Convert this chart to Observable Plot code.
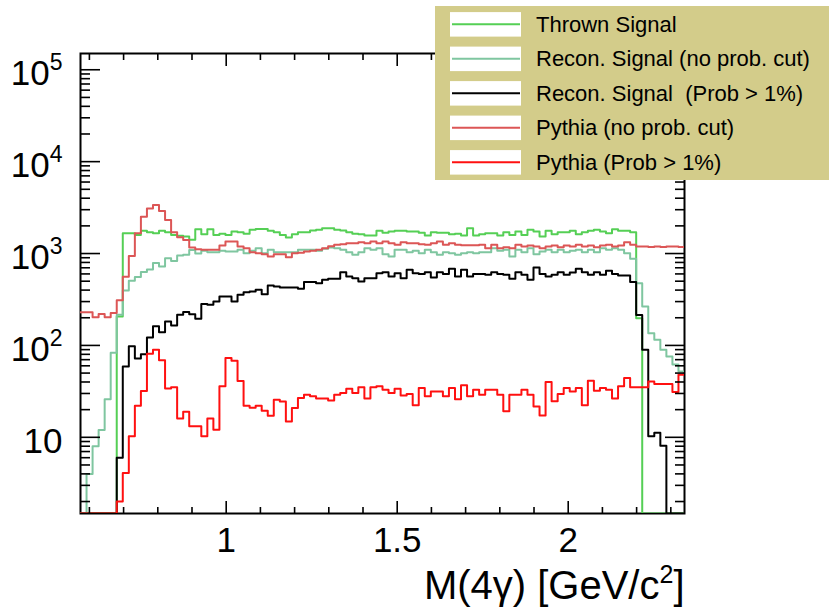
<!DOCTYPE html>
<html>
<head>
<meta charset="utf-8">
<script src="https://cdn.jsdelivr.net/npm/d3@7"></script>
<script src="https://cdn.jsdelivr.net/npm/@observablehq/plot@0.6"></script>
<style>
  html, body { margin: 0; padding: 0; background: #fff; }
  #wrap { position: relative; width: 829px; height: 610px; overflow: hidden; font-family: "Liberation Sans", Arial, Helvetica, sans-serif; }
  #legend { position: absolute; left: 435px; top: 6px; }
</style>
</head>
<body>
<div id="wrap">
  <div id="chart"></div>
  <svg id="legend" width="394" height="174"></svg>
</div>
<script>
// ---- Histogram binning (100 bins over the displayed range) ----
const xMin = 0.574, xMax = 2.340, nBins = 100;
const yLo = 1.482, yHi = 150300;

// ---- Series (bin contents) ----
const thrownSignal = [
  0,0,0,0,0,0,207,1665,1665,1596,
  1765,1706,1665,1765,1706,1596,1560,1531,1410,1840,
  1620,1840,1596,1640,1596,1734,1706,1640,1810,1855,
  1855,1765,1700,1596,1494,1622,1706,1706,1780,1810,
  1889,1889,1810,1780,1706,1640,1622,1570,1570,1765,
  1680,1734,1765,1765,1734,1734,1680,1570,1706,1680,
  1680,1622,1640,1570,1889,1570,1622,1665,1665,1570,
  1706,1596,1734,1596,1810,1734,1531,1765,1622,1706,
  1706,1765,1622,1706,1765,1810,1734,1660,1840,1765,
  1765,1706,198,0,0,0,0,0,0,0
];
const reconNoCut = [
  0,4,8,12,26,83,216,395,505,555,
  630,670,790,723,891,830,950,968,1090,1000,
  1069,1035,1035,1069,1050,1050,1097,1009,1069,1143,
  1009,1097,1035,1035,1035,1035,1097,1097,1097,1069,
  1124,1160,1143,1097,1035,968,1035,1143,1097,1143,
  985,929,1097,1097,1035,1069,1009,1097,1035,968,
  1035,1009,968,1009,1035,1009,1035,1035,1143,1069,
  1097,929,1097,1035,1143,985,1050,1097,1035,1097,
  1035,1069,1097,1035,1097,1035,1143,1097,1143,1097,
  1009,880,476,265,136,115,90,76,62,52
];
const reconProb = [
  0,0,0,0,0,0,6.0,59,98,72,
  80,122,162,139,182,165,216,231,219,195,
  282,277,301,341,341,301,356,380,387,403,
  361,449,438,428,428,428,413,489,489,476,
  517,531,531,627,562,540,497,540,540,611,
  627,562,611,540,665,611,597,627,549,627,
  597,682,562,665,562,597,597,586,627,597,
  586,531,627,586,517,705,597,562,586,627,
  586,620,682,627,586,627,586,651,597,577,
  577,489,214,90,10.3,11.2,8.1,0,0,0
];
const pythiaNoCut = [
  229,229,202,220,202,225,311,560,940,1665,
  2520,3100,3380,2900,2323,1710,1500,1400,1160,1115,
  1097,1097,1097,1222,1352,1352,1192,1143,1035,1009,
  985,929,985,985,912,1009,1020,1050,1069,1100,
  1143,1200,1245,1260,1297,1297,1330,1297,1352,1297,
  1352,1297,1245,1330,1297,1297,1260,1245,1297,1352,
  1245,1297,1245,1230,1230,1230,1245,1143,1245,1143,
  1170,1143,1245,1192,1220,1192,1143,1192,1220,1170,
  1220,1192,1245,1192,1220,1170,1220,1245,1192,1220,
  1330,1245,1192,1192,1180,1192,1180,1192,1192,1180
];
const pythiaProb = [
  0,0,0,0,0,0,2.0,4.1,10.3,22,
  32,81,90,69,34,35,16,19,13.2,13.2,
  10.3,16,12.1,36,73,68,41,22,21,22,
  19.5,17.2,25.7,24.6,14.9,20.8,26.8,29.1,27.9,26.4,
  26.4,25.1,29.1,30.3,33.8,30.3,35.0,26.4,35.0,35.9,
  33.0,30.3,33.8,28.5,29.6,22.3,34.4,27.9,31.6,31.6,
  27.9,34.4,26.0,36.8,27.9,33,29,33,33,29,
  19.2,29,29,33,29,21.7,17.3,40,24.7,29.6,
  34.4,31.6,34.4,22.3,41.3,32.2,34.4,33,26.4,35.9,
  44.2,35,35,35,40.6,38,38,38,31.1,48
];

const seriesNames  = ["Thrown Signal", "Recon. Signal (no prob. cut)", "Recon. Signal  (Prob > 1%)", "Pythia (no prob. cut)", "Pythia (Prob > 1%)"];
const seriesValues = [thrownSignal, reconNoCut, reconProb, pythiaNoCut, pythiaProb];
const seriesColors = ["#55cf55", "#7fc6a0", "#000000", "#dc5656", "#ff1010"];

// ---- Ticks ----
const xMajorTicks = [1, 1.5, 2];
const xTickLabels = ["1", "1.5", "2"];
const xMinorTicks = [0.6,0.7,0.8,0.9,1.1,1.2,1.3,1.4,1.6,1.7,1.8,1.9,2.1,2.2,2.3];
const yMajorTicks = [10, 100, 1000, 10000, 100000];
const yTickBase = ["10", "10", "10", "10", "10"];
const yTickExp  = ["", "2", "3", "4", "5"];
const yMinorTicks = [];
for (let e = 0; e <= 5; e++) for (let m = 2; m <= 9; m++) {
  const v = m * Math.pow(10, e);
  if (v >= yLo && v <= yHi) yMinorTicks.push(v);
}
const xTitleMain = "M(4\u03b3) [GeV/c", xTitleSup = "2", xTitleEnd = "]";

// ---- Build step outlines from bin contents ----
const edges = d3.range(nBins + 1).map(k => xMin + k * (xMax - xMin) / nBins);
function steps(values) {
  const pts = [];
  values.forEach((v, k) => {
    const y = Math.max(v, yLo);
    pts.push({x: edges[k], y}, {x: edges[k + 1], y});
  });
  return pts;
}

const font = "'Liberation Sans', Arial, Helvetica, sans-serif";
const tickStroke = 1.6;

const marks = [Plot.frame({stroke: "black", strokeWidth: 2})];
seriesValues.forEach((vals, i) => {
  marks.push(Plot.line(steps(vals), {x: "x", y: "y", stroke: seriesColors[i], strokeWidth: 2, clip: true}));
});
marks.push(
  // bottom axis
  Plot.axisX(xMajorTicks, {anchor: "bottom", tickSize: -12, strokeWidth: tickStroke, tickFormat: () => "", label: null}),
  Plot.axisX(xMinorTicks, {anchor: "bottom", tickSize: -6, strokeWidth: tickStroke, tickFormat: () => "", label: null}),
  Plot.axisX(xMajorTicks, {anchor: "bottom", tickSize: 0, tickPadding: 14, fontSize: 35, fill: "black",
    tickFormat: d => xTickLabels[xMajorTicks.indexOf(d)], label: null}),
  // top axis
  Plot.axisX(xMajorTicks, {anchor: "top", tickSize: -12, strokeWidth: tickStroke, tickFormat: () => "", label: null}),
  Plot.axisX(xMinorTicks, {anchor: "top", tickSize: -6, strokeWidth: tickStroke, tickFormat: () => "", label: null}),
  // left axis
  Plot.axisY(yMajorTicks, {anchor: "left", tickSize: -20, strokeWidth: tickStroke, tickFormat: () => "", label: null}),
  Plot.axisY(yMinorTicks, {anchor: "left", tickSize: -10, strokeWidth: tickStroke, tickFormat: () => "", label: null}),
  Plot.axisY(yMajorTicks, {anchor: "left", tickSize: 0, tickPadding: 18, fontSize: 35, fill: "black", dy: 4,
    tickFormat: d => "ytick" + yMajorTicks.indexOf(d), label: null}),
  // right axis
  Plot.axisY(yMajorTicks, {anchor: "right", tickSize: -20, strokeWidth: tickStroke, tickFormat: () => "", label: null}),
  Plot.axisY(yMinorTicks, {anchor: "right", tickSize: -10, strokeWidth: tickStroke, tickFormat: () => "", label: null}),
  // axis title
  Plot.text([xTitleMain + xTitleSup + xTitleEnd], {frameAnchor: "bottom-right", textAnchor: "end", lineAnchor: "bottom",
    dy: 85, fontSize: 40, fill: "black"})
);

const chart = Plot.plot({
  width: 829, height: 610,
  marginLeft: 80, marginRight: 145, marginTop: 53, marginBottom: 97,
  style: {fontFamily: font, background: "white", color: "black", overflow: "visible"},
  x: {domain: [xMin, xMax]},
  y: {type: "log", domain: [yLo, yHi]},
  marks
});
document.getElementById("chart").appendChild(chart);

// y tick labels with exponents; axis title with superscript
d3.select(chart).selectAll("text").each(function() {
  const t = this.textContent;
  if (t.startsWith("ytick")) {
    const i = +t.slice(5);
    const sel = d3.select(this);
    sel.text(yTickBase[i]);
    if (yTickExp[i]) sel.append("tspan").attr("dy", -15).attr("font-size", 23).text(yTickExp[i]);
  } else if (t === xTitleMain + xTitleSup + xTitleEnd) {
    const sel = d3.select(this);
    sel.text(xTitleMain);
    sel.append("tspan").attr("dy", -16).attr("font-size", 25).text(xTitleSup);
    sel.append("tspan").attr("dy", 16).text(xTitleEnd);
  }
});

// ---- Legend ----
const lg = d3.select("#legend");
lg.append("rect").attr("x", 0).attr("y", 0).attr("width", 394).attr("height", 174).attr("fill", "#d3cc8a");
seriesNames.forEach((name, i) => {
  const cy = 18.3 + 34.5 * i;
  lg.append("rect").attr("x", 15).attr("y", cy - 12.2).attr("width", 71).attr("height", 24.5).attr("fill", "white");
  lg.append("line").attr("x1", 17).attr("x2", 85).attr("y1", cy).attr("y2", cy)
    .attr("stroke", seriesColors[i]).attr("stroke-width", 2);
  lg.append("text").attr("x", 101).attr("y", cy + 7.6).attr("font-size", 22).attr("fill", "black")
    .attr("font-family", font).style("white-space", "pre").text(name);
});
</script>
</body>
</html>
